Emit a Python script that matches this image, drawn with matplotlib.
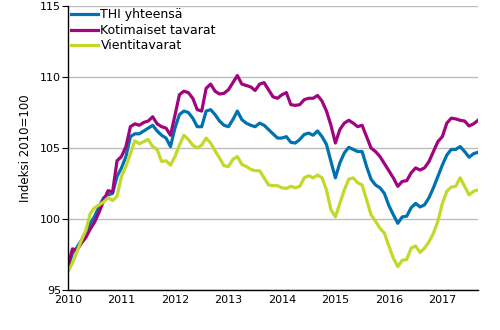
import numpy as np
import matplotlib
matplotlib.use("Agg")
import matplotlib.pyplot as plt

# Monthly index values, Jan 2010 - Sep 2017
thi_total = [
    96.6, 97.6, 98.0, 98.5, 99.1, 99.7, 100.2, 100.9, 101.5, 101.7, 101.8, 103.0,
    103.6, 104.4, 105.8, 106.0, 106.0, 106.2, 106.4, 106.6, 106.2, 105.9, 105.7, 105.1,
    106.4, 107.35, 107.6, 107.5, 107.1, 106.5, 106.5, 107.6, 107.7, 107.35, 106.9, 106.6,
    106.5, 107.0, 107.6, 107.0, 106.75, 106.6, 106.5, 106.75, 106.6, 106.3, 106.0, 105.7,
    105.7, 105.8, 105.4, 105.35, 105.6, 105.95, 106.05, 105.9, 106.2, 105.8, 105.25, 104.05,
    102.9, 103.95, 104.65, 105.05, 104.9, 104.75, 104.75, 103.7, 102.8, 102.4, 102.2, 101.8,
    100.95, 100.3, 99.7, 100.15, 100.2, 100.8, 101.1, 100.85, 101.0, 101.5, 102.2, 103.0,
    103.8, 104.5, 104.9, 104.9, 105.1, 104.75, 104.35, 104.6, 104.7,
]
domestic = [
    96.7, 97.9, 97.8, 98.3, 98.7, 99.3, 99.8, 100.5, 101.3, 102.0, 101.9, 104.1,
    104.4, 105.1, 106.5, 106.7, 106.6, 106.8, 106.9, 107.2, 106.7, 106.5, 106.4, 105.9,
    107.3, 108.75, 109.0, 108.9, 108.5, 107.7, 107.6, 109.2, 109.5, 109.0, 108.8, 108.85,
    109.1, 109.6, 110.1, 109.5, 109.4, 109.3, 109.05, 109.5, 109.6, 109.1, 108.6, 108.5,
    108.75, 108.9, 108.05, 108.0, 108.05, 108.4, 108.5, 108.5, 108.7, 108.3, 107.6, 106.6,
    105.35, 106.3, 106.75, 106.95, 106.75, 106.5, 106.6, 105.8, 105.0, 104.75, 104.4, 103.9,
    103.4, 102.9, 102.3, 102.65, 102.7, 103.25, 103.6, 103.45, 103.6, 104.05, 104.75, 105.45,
    105.8, 106.75, 107.1, 107.05, 106.95, 106.9, 106.55, 106.7, 106.95,
]
export = [
    96.3, 96.9, 97.7, 98.5, 99.2, 100.4, 100.8, 101.0, 101.2, 101.5, 101.3, 101.6,
    103.0, 103.7, 104.6, 105.5, 105.3, 105.45, 105.6, 105.1, 104.9, 104.05, 104.1, 103.8,
    104.4, 105.2, 105.9, 105.6, 105.2, 105.0, 105.2, 105.7, 105.35, 104.8, 104.3, 103.75,
    103.7, 104.2, 104.4, 103.85, 103.7, 103.5, 103.4, 103.4, 102.9, 102.4, 102.35, 102.35,
    102.2, 102.15, 102.3, 102.2, 102.3, 102.9, 103.05, 102.9, 103.1, 102.9, 102.05, 100.65,
    100.15, 101.1, 102.05, 102.8, 102.9, 102.55, 102.4, 101.35, 100.3, 99.85, 99.35, 99.0,
    98.1, 97.25, 96.65, 97.1, 97.15, 97.95, 98.1, 97.65, 97.95, 98.4, 99.0, 99.85,
    101.1, 101.95, 102.25, 102.3, 102.9, 102.3, 101.7, 101.95, 102.05,
]
labels = ["THI yhteensä", "Kotimaiset tavarat", "Vientitavarat"]
years = list(range(2010, 2018))

t = 2010 + np.arange(len(thi_total)) / 12

fig = plt.figure(figsize=(5, 3.3), dpi=100)
ax = fig.add_axes([0.136, 0.121, 0.82, 0.861])

ax.plot(t, thi_total, color="#0072B0", lw=2.3, label=labels[0])
ax.plot(t, domestic, color="#A0057F", lw=2.3, label=labels[1])
ax.plot(t, export, color="#C4D82A", lw=2.3, label=labels[2])

ax.set_xlim(2010, t[-1])
ax.set_ylim(95, 115)
ax.set_yticks(range(95, 116, 5))
ax.set_xticks(years)
ax.set_xticklabels([str(y) for y in years])
ax.grid(axis="y", color="#BDBDBD", lw=1)
ax.set_axisbelow(True)
for s in ["top", "right"]:
    ax.spines[s].set_visible(False)
ax.spines["left"].set_linewidth(1)
ax.spines["bottom"].set_linewidth(1)
ax.tick_params(axis="x", length=0, labelsize=8, pad=3.5)
ax.tick_params(axis="y", length=4, labelsize=8, pad=1)
ax.set_ylabel("Indeksi 2010=100", fontsize=8.5, labelpad=6)

ax.legend(loc="upper left", frameon=False, fontsize=9, handlelength=2.2,
          handletextpad=0.2, labelspacing=0.2, borderaxespad=0.1, borderpad=0.1)

fig.savefig("out.png", dpi=100)
